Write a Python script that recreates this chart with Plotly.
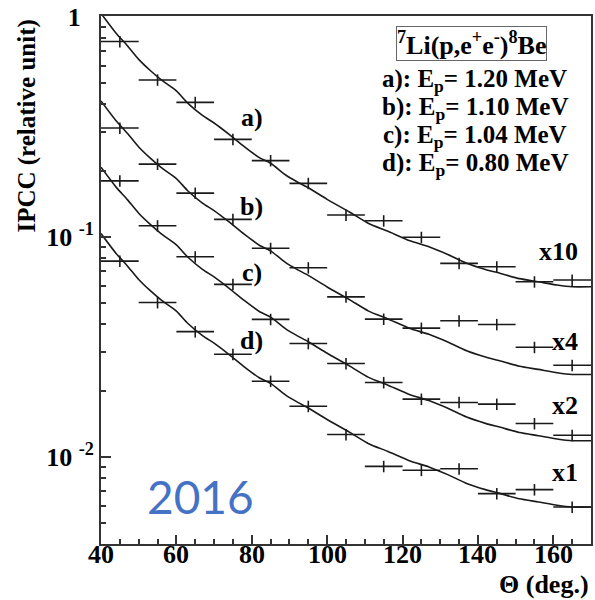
import math
import plotly.graph_objects as go

# ---- data ----
theta = [45, 55, 65, 75, 85, 95, 105, 115, 125, 135, 145, 155, 165]
theta_err = [5] * len(theta)

ipcc_a = [0.771, 0.516, 0.408, 0.277, 0.222, 0.175, 0.1256, 0.1183, 0.0995, 0.0758, 0.0731, 0.0625, 0.0637]
ipcc_b = [0.312, 0.214, 0.158, 0.120, 0.0887, 0.0724, 0.0534, 0.0423, 0.0385, 0.0416, 0.0400, 0.0315, 0.0261]
ipcc_c = [0.1795, 0.1123, 0.0812, 0.0608, 0.0422, 0.0328, 0.0266, 0.0218, 0.01832, 0.0177, 0.01738, 0.01419, 0.01256]
ipcc_d = [0.0776, 0.0503, 0.0371, 0.0293, 0.0221, 0.0170, 0.01265, 0.00907, 0.00871, 0.00884, 0.00682, 0.00711, 0.00593]
err_percent = 6

# simulated curve (x1), scaled by the factors shown on the chart
curve_theta = [40, 44, 47, 50, 53, 56, 60, 63, 67, 70, 74, 78, 82, 85, 89, 92, 95, 100,
               106, 111, 116, 122, 127, 132, 137, 142, 146, 151, 156, 161, 165, 170]
curve_base = [0.1035, 0.0841, 0.0738, 0.0640, 0.0571, 0.0516, 0.0460, 0.0405, 0.0355, 0.0329,
              0.0292, 0.0257, 0.0229, 0.0216, 0.0191, 0.0178, 0.0167, 0.0148, 0.01294, 0.0115,
              0.01062, 0.00959, 0.00902, 0.00832, 0.00759, 0.00711, 0.00682, 0.00646, 0.00625,
              0.00604, 0.00593, 0.00593]
scale_factors = [10, 4, 2, 1]
scale_labels = ["x10", "x4", "x2", "x1"]
scale_label_y = [0.0861, 0.0336, 0.01718, 0.00853]

series_names = ["a)", "b)", "c)", "d)"]
series_label_y = [0.350, 0.138, 0.0692, 0.0340]
energies = ["1.20", "1.10", "1.04", "0.80"]

x_ticks = [40, 60, 80, 100, 120, 140, 160]
y_tickvals = [0.01, 0.1, 1]
y_ticktext = ["10\u00a0<sup>-2</sup>", "10\u00a0<sup>-1</sup>", "1\u00a0\u00a0"]
y_minor = [m * d for d in [0.001, 0.01, 0.1] for m in range(2, 10)]

SERIF = "Liberation Serif"
INK = "#1a1a1a"
FS = 26

fig = go.Figure()

for f in scale_factors:
    fig.add_trace(go.Scatter(
        x=curve_theta, y=[v * f for v in curve_base], mode="lines",
        line=dict(color=INK, width=1.6, shape="spline", smoothing=0.6),
        hoverinfo="skip", showlegend=False))

for ys in [ipcc_a, ipcc_b, ipcc_c, ipcc_d]:
    fig.add_trace(go.Scatter(
        x=theta, y=ys, mode="markers",
        marker=dict(size=1, color="rgba(0,0,0,0)"),
        error_x=dict(type="data", array=theta_err, color=INK, thickness=1.6, width=0),
        error_y=dict(type="percent", value=err_percent, color=INK, thickness=1.6, width=0),
        showlegend=False))

ann = []
for name, yv in zip(series_names, series_label_y):
    ann.append(dict(x=80, y=math.log10(yv), xref="x", yref="y", yanchor="middle", xanchor="center",
                    text="<b>%s</b>" % name, showarrow=False,
                    font=dict(family=SERIF, size=FS, color="black")))
for lab, yv in zip(scale_labels, scale_label_y):
    ann.append(dict(x=167, y=math.log10(yv), xref="x", yref="y", xanchor="right", yanchor="middle",
                    text="<b>%s</b>" % lab, showarrow=False,
                    font=dict(family=SERIF, size=FS, color="black")))

# x tick labels (placed closer to the axis, as in the original)
for t in x_ticks:
    ann.append(dict(x=t, y=-0.019, xref="x", yref="paper", xanchor="center", yanchor="middle",
                    text="<b>%d</b>" % t, showarrow=False,
                    font=dict(family=SERIF, size=FS, color="black")))

# legend box
ann.append(dict(x=0.757, y=0.947, xref="paper", yref="paper", xanchor="center", yanchor="middle",
                text="<b><sup>7</sup>Li(p,e<sup>+</sup>e<sup>-</sup>)<sup>8</sup>Be</b>",
                showarrow=False, bordercolor="#666", borderwidth=1, borderpad=0,
                font=dict(family=SERIF, size=FS, color="black")))
leg_y = [0.878, 0.825, 0.772, 0.719]
for name, e, yv in zip(series_names, energies, leg_y):
    ann.append(dict(x=0.763, y=yv, xref="paper", yref="paper", xanchor="center", yanchor="middle",
                    text="<b>%s: E<sub>p</sub>= %s MeV</b>" % (name, e), showarrow=False,
                    font=dict(family=SERIF, size=25, color="black")))

# axis titles
ann.append(dict(x=-0.150, y=0.997, xref="paper", yref="paper", xanchor="center", yanchor="top",
                textangle=-90, text="<b>IPCC (relative unit)</b>", showarrow=False,
                font=dict(family=SERIF, size=25, color="black")))
ann.append(dict(x=1.0, y=-0.076, xref="paper", yref="paper", xanchor="right", yanchor="middle",
                text="<b>\u0398 (deg.)</b>", showarrow=False,
                font=dict(family=SERIF, size=FS, color="black")))
# year
ann.append(dict(x=0.203, y=0.09, xref="paper", yref="paper", xanchor="center", yanchor="middle",
                text="2016", showarrow=False,
                font=dict(family="Lato", size=46, color="#4472C4")))

fig.update_layout(
    width=595, height=600,
    margin=dict(l=101, r=2, t=16, b=56),
    paper_bgcolor="white", plot_bgcolor="white",
    annotations=ann,
    showlegend=False,
)
fig.update_xaxes(
    range=[40, 170], tickvals=x_ticks, showticklabels=False,
    ticks="inside", ticklen=9, tickwidth=1.5, tickcolor="#333",
    minor=dict(dtick=5, tick0=40, ticks="inside", ticklen=5, tickwidth=1.5, tickcolor="#333", showgrid=False),
    showline=True, linewidth=2, linecolor="#333", mirror=True,
    showgrid=False, zeroline=False,
)
fig.update_yaxes(
    type="log", range=[-2.395, 0.003],
    tickvals=y_tickvals, ticktext=y_ticktext,
    ticks="inside", ticklen=10, tickwidth=1.5, tickcolor="#333",
    minor=dict(tickvals=y_minor, ticks="inside", ticklen=5, tickwidth=1.5, tickcolor="#333", showgrid=False),
    showline=True, linewidth=2, linecolor="#333", mirror=True,
    showgrid=False, zeroline=False,
    tickfont=dict(family=SERIF, size=FS, color="black", weight="bold"),
)

fig.write_html("out.html")
